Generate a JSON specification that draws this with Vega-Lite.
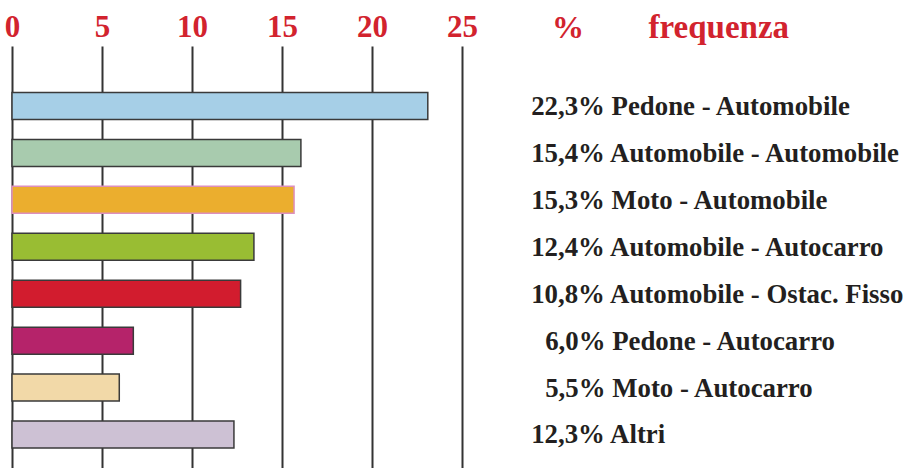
{
  "$schema": "https://vega.github.io/schema/vega-lite/v6.json",
  "autosize": "none",
  "padding": {"left": 12, "top": 46, "right": 445, "bottom": 0},
  "width": 450,
  "height": 422,
  "background": "white",
  "config": {"view": {"stroke": null}, "font": "Liberation Serif, Times New Roman, serif"},
  "data": {
    "values": [
      {"tipo": "Pedone - Automobile", "etichetta": "22,3% Pedone - Automobile", "percentuale": 22.3, "barra": 23.1},
      {"tipo": "Automobile - Automobile", "etichetta": "15,4% Automobile - Automobile", "percentuale": 15.4, "barra": 16.05},
      {"tipo": "Moto - Automobile", "etichetta": "15,3% Moto - Automobile", "percentuale": 15.3, "barra": 15.67},
      {"tipo": "Automobile - Autocarro", "etichetta": "12,4% Automobile - Autocarro", "percentuale": 12.4, "barra": 13.44},
      {"tipo": "Automobile - Ostac. Fisso", "etichetta": "10,8% Automobile - Ostac. Fisso", "percentuale": 10.8, "barra": 12.7},
      {"tipo": "Pedone - Autocarro", "etichetta": "6,0% Pedone - Autocarro", "percentuale": 6.0, "barra": 6.74},
      {"tipo": "Moto - Autocarro", "etichetta": "5,5% Moto - Autocarro", "percentuale": 5.5, "barra": 5.96},
      {"tipo": "Altri", "etichetta": "12,3% Altri", "percentuale": 12.3, "barra": 12.33}
    ]
  },
  "mark": {"type": "bar", "strokeWidth": 1.5},
  "encoding": {
    "y": {
      "field": "etichetta",
      "type": "nominal",
      "sort": null,
      "scale": {"range": [0, 448.5], "paddingInner": 0.4247, "paddingOuter": 0.9909},
      "axis": {
        "orient": "right",
        "domain": false,
        "ticks": false,
        "tickSize": 0,
        "grid": false,
        "labelPadding": {"condition": {"test": "test(/^[0-9],/, datum.value)", "value": 82.7}, "value": 68.7},
        "labelAlign": "left",
        "labelBaseline": "middle",
        "labelOffset": 1,
        "labelFont": "Liberation Serif, Times New Roman, serif",
        "labelFontWeight": "bold",
        "labelFontSize": 26.8,
        "labelColor": "#231f20",
        "labelLimit": 0,
        "labelOverlap": false,
        "title": "frequenza",
        "titleAngle": 0,
        "titleX": 186,
        "titleY": -9,
        "titleAlign": "left",
        "titleBaseline": "alphabetic",
        "titleFont": "Liberation Serif, Times New Roman, serif",
        "titleFontWeight": "bold",
        "titleFontSize": 33,
        "titleColor": "#d2232e"
      }
    },
    "x": {
      "field": "barra",
      "type": "quantitative",
      "scale": {"domain": [0, 25], "nice": false, "zero": true},
      "axis": {
        "orient": "top",
        "values": [0, 5, 10, 15, 20, 25],
        "domain": false,
        "ticks": false,
        "tickSize": 0,
        "grid": true,
        "gridColor": "#333333",
        "gridWidth": 2,
        "gridOpacity": 1,
        "labelPadding": 10,
        "labelBaseline": "alphabetic",
        "labelFlush": false,
        "labelOverlap": false,
        "labelFont": "Liberation Serif, Times New Roman, serif",
        "labelFontWeight": "bold",
        "labelFontSize": 31,
        "labelColor": "#d2232e",
        "title": "%",
        "titleX": 555.5,
        "titleY": -9,
        "titleAlign": "center",
        "titleBaseline": "alphabetic",
        "titleFont": "Liberation Serif, Times New Roman, serif",
        "titleFontWeight": "bold",
        "titleFontSize": 32,
        "titleColor": "#d2232e"
      }
    },
    "color": {
      "field": "tipo",
      "type": "nominal",
      "legend": null,
      "scale": {
        "domain": ["Pedone - Automobile", "Automobile - Automobile", "Moto - Automobile", "Automobile - Autocarro", "Automobile - Ostac. Fisso", "Pedone - Autocarro", "Moto - Autocarro", "Altri"],
        "range": ["#a6cfe7", "#a8cbae", "#ebae2e", "#99bd33", "#d21c2e", "#b5236a", "#f2d9a8", "#cdc1d4"]
      }
    },
    "stroke": {
      "condition": {"test": "datum.tipo == 'Moto - Automobile'", "value": "#dd8fbd"},
      "value": "#3a3a3a"
    }
  }
}
